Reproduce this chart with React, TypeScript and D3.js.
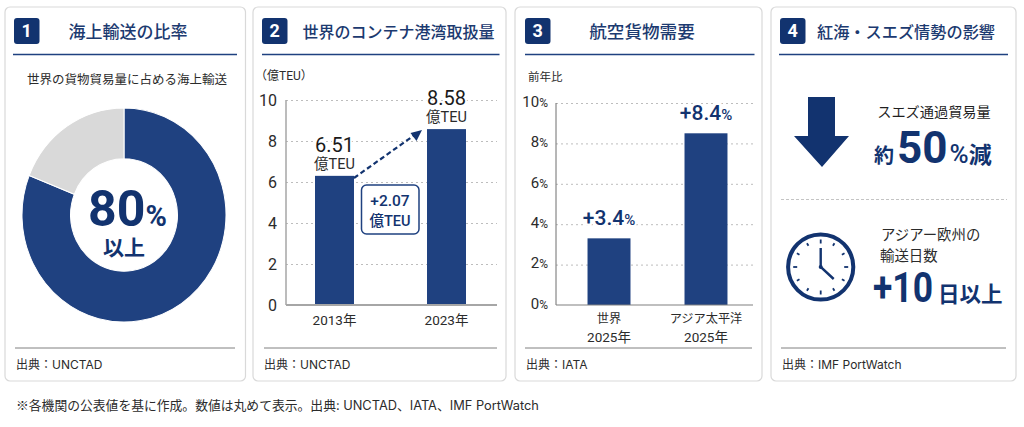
import { useEffect, useRef } from "react";
import { arc, axisLeft, pie, range, scaleBand, scaleLinear, select } from "d3";

//data
const shareLabels = ["海上輸送", "その他"];
const shareValues = [81, 19];

const teuYears = ["2013年", "2023年"];
const teuBars = [6.3, 8.58];
const teuText = ["6.51", "8.58"];
const teuTicks = [0, 2, 4, 6, 8, 10];

const airNames = [
  ["世界", "2025年"],
  ["アジア太平洋", "2025年"],
];
const airBars = [3.3, 8.5];
const airText = ["+3.4", "+8.4"];
const airTicks = [0, 2, 4, 6, 8, 10];

const NAVY = "#1f4180";
const DARK = "#12336f";
const INK = "#2b2b2b";
const FONT = "Roboto, 'Noto Sans CJK JP', sans-serif";
const SMALL = "Inter, 'Noto Sans CJK JP', sans-serif";
const JP = "'Noto Sans CJK JP', sans-serif";

//scales
const teuY = scaleLinear().domain([0, 10]).range([305, 100]);
const teuX = scaleBand<string>().domain(teuYears).range([286, 495]).paddingInner(0.652).paddingOuter(0.259);
const airY = scaleLinear().domain([0, 10]).range([305, 103]);
const airX = scaleBand<string>().domain(airNames.map((d) => d[0])).range([556, 759]).paddingInner(0.557).paddingOuter(0.325);

const slices = pie<number>().sort(null)(shareValues);
const sliceArc = arc<any>().innerRadius(53.5).outerRadius(102);

const panels = [
  { x: 5, w: 240.5, n: "1", title: "海上輸送の比率", titleX: 128, size: 17, bx: 14, rx: [13, 237], fx: [15, 235], src: "UNCTAD", srcX: 16 },
  { x: 253, w: 253, n: "2", title: "世界のコンテナ港湾取扱量", titleX: 398.5, size: 16, bx: 262, rx: [262, 499.5], fx: [264, 497], src: "UNCTAD", srcX: 264 },
  { x: 515, w: 247, n: "3", title: "航空貨物需要", titleX: 642, size: 17.6, bx: 525, rx: [525, 754.5], fx: [525, 752], src: "IATA", srcX: 526 },
  { x: 771, w: 245, n: "4", title: "紅海・スエズ情勢の影響", titleX: 906, size: 16.2, bx: 780, rx: [779, 1008], fx: [781, 1006], src: "IMF PortWatch", srcX: 782 },
];

const halo = { stroke: "#fff", strokeWidth: 4, paintOrder: "stroke" as const };

const App = () => {
  const teuGridRef = useRef<SVGGElement>(null);
  const teuAxisRef = useRef<SVGGElement>(null);
  const airGridRef = useRef<SVGGElement>(null);
  const airAxisRef = useRef<SVGGElement>(null);

  useEffect(() => {
    //gridlines
    const grid = (el: SVGGElement | null, y: any, ticks: number[], left: number, right: number) => {
      const g = select(el).attr("transform", `translate(${left},0)`);
      g.call(axisLeft(y).tickValues(ticks.filter((d) => d > 0)).tickSize(left - right).tickFormat(() => "") as any);
      g.select(".domain").remove();
      g.selectAll("line").attr("stroke", "#bdbdbd").attr("stroke-width", 1).attr("stroke-dasharray", "2 3");
    };
    grid(teuGridRef.current, teuY, teuTicks, 286, 497);
    grid(airGridRef.current, airY, airTicks, 556, 753);

    //y axes
    const teu = select(teuAxisRef.current).attr("transform", "translate(286,0)");
    teu.call(axisLeft(teuY).tickValues(teuTicks).tickSize(0).tickPadding(9) as any);
    teu.select(".domain").remove();
    teu.selectAll("text").attr("font-family", FONT).attr("font-size", 16).attr("fill", INK);

    const air = select(airAxisRef.current).attr("transform", "translate(556,0)");
    air.call(axisLeft(airY).tickValues(airTicks).tickSize(0).tickPadding(8) as any);
    air.select(".domain").remove();
    air.selectAll<SVGTextElement, number>("text").each(function (d) {
      const t = select(this).text(null).attr("font-family", FONT).attr("fill", INK);
      t.append("tspan").attr("font-size", 15).text(d);
      t.append("tspan").attr("font-size", 12).text("%");
    });
  }, []);

  return (
    <svg
      width={1024}
      height={427}
      viewBox="0 0 1024 427"
      style={{ position: "absolute", left: 0, top: 0, background: "#fff" }}
      fontFamily={FONT}
    >
      {/* cards */}
      {panels.map((p) => (
        <g key={p.n}>
          <rect x={p.x} y={7} width={p.w} height={374} rx={5} fill="#fff" stroke="#d9d9d9" strokeWidth={1.2} />
          <rect x={p.bx} y={18} width={25.5} height={26} rx={3} fill={DARK} />
          <text x={p.bx + 12.75} y={37} textAnchor="middle" fontSize={18} fontWeight={700} fill="#fff">{p.n}</text>
          <text x={p.titleX} y={38} textAnchor="middle" fontFamily={JP} fontSize={p.size} fontWeight={500} fill="#1c3a70">{p.title}</text>
          <line x1={p.rx[0]} x2={p.rx[1]} y1={54.5} y2={54.5} stroke={NAVY} strokeWidth={1.4} />
          <line x1={p.fx[0]} x2={p.fx[1]} y1={348} y2={348} stroke="#808080" strokeWidth={1} />
          <text x={p.srcX} y={369} fontFamily={SMALL} fontSize={12} fill={INK}>出典：{p.src}</text>
        </g>
      ))}

      {/* 1 donut */}
      <text x={127} y={84} textAnchor="middle" fontFamily={JP} fontSize={12.5} fill={INK}>世界の貨物貿易量に占める海上輸送</text>
      <g transform="translate(124,215) scale(1,1.05)">
        {slices.map((s, i) => (
          <path key={shareLabels[i]} d={sliceArc(s) as string} fill={i === 0 ? NAVY : "#d9d9d9"} stroke="#fff" strokeWidth={1} />
        ))}
      </g>
      <text x={88} y={226} fill={DARK} fontWeight={700}>
        <tspan fontSize={50}>80</tspan>
        <tspan fontSize={29}>%</tspan>
      </text>
      <text x={124} y={255} textAnchor="middle" fontFamily={JP} fontSize={21} fontWeight={700} fill={DARK}>以上</text>

      {/* 2 container bars */}
      <text x={255} y={80} fontSize={12} fill={INK}>（億TEU）</text>
      <g ref={teuGridRef} />
      <g ref={teuAxisRef} />
      {teuYears.map((d, i) => (
        <g key={d}>
          <rect x={teuX(d)} y={teuY(teuBars[i])} width={teuX.bandwidth()} height={teuY(0) - teuY(teuBars[i])} fill={NAVY} />
          <text x={(teuX(d) as number) + teuX.bandwidth() / 2} y={325} textAnchor="middle" fontSize={13.5} fill={INK}>{d}</text>
          <text x={(teuX(d) as number) + teuX.bandwidth() / 2} y={teuY(teuBars[i]) - 24} textAnchor="middle" fontSize={20} fontWeight={400} fill="#1a1a1a" {...halo}>{teuText[i]}</text>
          <text x={(teuX(d) as number) + teuX.bandwidth() / 2} y={teuY(teuBars[i]) - 7} textAnchor="middle" fontSize={14.5} fill={INK} {...halo}>億TEU</text>
        </g>
      ))}
      <line x1={286} x2={286} y1={100} y2={305} stroke="#a6a6a6" strokeWidth={1.5} />
      <line x1={286} x2={497} y1={305} y2={305} stroke="#a6a6a6" strokeWidth={2} />
      <line x1={354} y1={178} x2={416} y2={134} stroke={DARK} strokeWidth={2.2} strokeDasharray="5 3" />
      <path d="M422 130 L410.5 133 L416.5 141 Z" fill={DARK} />
      <rect x={361.5} y={185} width={57.5} height={49} rx={5} fill="#fff" stroke={NAVY} strokeWidth={1.5} />
      <text x={390} y={206} textAnchor="middle" fontSize={15.5} fontWeight={500} fill={DARK}>+2.07</text>
      <text x={390} y={226} textAnchor="middle" fontSize={14.5} fontWeight={500} fill={DARK}>億TEU</text>

      {/* 3 air cargo bars */}
      <text x={528} y={81} fontFamily={JP} fontSize={11.5} fill={INK}>前年比</text>
      <g ref={airGridRef} />
      <g ref={airAxisRef} />
      {airNames.map((d, i) => {
        const cx = (airX(d[0]) as number) + airX.bandwidth() / 2;
        return (
          <g key={d[0]}>
            <rect x={airX(d[0])} y={airY(airBars[i])} width={airX.bandwidth()} height={airY(0) - airY(airBars[i])} fill={NAVY} />
            <text x={cx} y={323} textAnchor="middle" fontFamily={JP} fontSize={12.2} fill={INK}>{d[0]}</text>
            <text x={cx} y={342} textAnchor="middle" fontSize={13.5} fill={INK}>{d[1]}</text>
            <text x={cx} y={airY(airBars[i]) - 13} textAnchor="middle" fontWeight={500} fill={DARK} {...halo}>
              <tspan fontSize={21}>{airText[i]}</tspan>
              <tspan fontSize={15}>%</tspan>
            </text>
          </g>
        );
      })}
      <line x1={556} x2={556} y1={103} y2={305} stroke="#6e6e6e" strokeWidth={1} />
      <line x1={556} x2={753} y1={305} y2={305} stroke="#808080" strokeWidth={1.2} />

      {/* 4 suez */}
      <path d="M808 97 H835 V136 H849 L822 167 L794 136 H808 Z" fill={DARK} />
      <text x={934} y={117} textAnchor="middle" fontFamily={JP} fontSize={14.2} fill="#1f1f1f">スエズ通過貿易量</text>
      <text x={874} y={163} fill={DARK} fontWeight={700}>
        <tspan fontFamily={JP} fontSize={20}>約</tspan>
        <tspan fontSize={44} dx={3}>50</tspan>
        <tspan fontSize={26} fontWeight={500} dx={2}>%</tspan>
        <tspan fontFamily={JP} fontSize={23}>減</tspan>
      </text>
      <line x1={781} x2={1007} y1={199.5} y2={199.5} stroke="#c4c4c4" strokeDasharray="3 2" />

      <circle cx={820.7} cy={267} r={32.6} fill="none" stroke={DARK} strokeWidth={4} />
      {range(12).map((h) => {
        const a = (h * Math.PI) / 6;
        const inner = h % 3 === 0 ? 23.5 : 24.5;
        return (
          <line
            key={h}
            x1={820.7 + inner * Math.sin(a)}
            y1={267 - inner * Math.cos(a)}
            x2={820.7 + 27.5 * Math.sin(a)}
            y2={267 - 27.5 * Math.cos(a)}
            stroke={DARK}
            strokeWidth={1.8}
          />
        );
      })}
      <path d="M820.7 248 V267 L833.7 279" fill="none" stroke={DARK} strokeWidth={2.4} />
      <circle cx={820.7} cy={267} r={2} fill={DARK} />
      <text x={881} y={240} fontFamily={JP} fontSize={14.4} fill={INK}>アジアー欧州の</text>
      <text x={880} y={261} fontFamily={JP} fontSize={14.4} fill={INK}>輸送日数</text>
      <text x={873} y={302} fontSize={43} fontWeight={700} fill={DARK} textLength={60} lengthAdjust="spacingAndGlyphs">+10</text>
      <text x={938} y={302} fontFamily={JP} fontSize={21.5} fontWeight={700} fill={DARK}>日以上</text>

      <text x={16} y={410} fontFamily={SMALL} fontSize={12.8} fill={INK}>
        <tspan fontFamily={JP}>※</tspan>各機関の公表値を基に作成。数値は丸めて表示。出典: UNCTAD、IATA、IMF PortWatch
      </text>
    </svg>
  );
};

export default App;
